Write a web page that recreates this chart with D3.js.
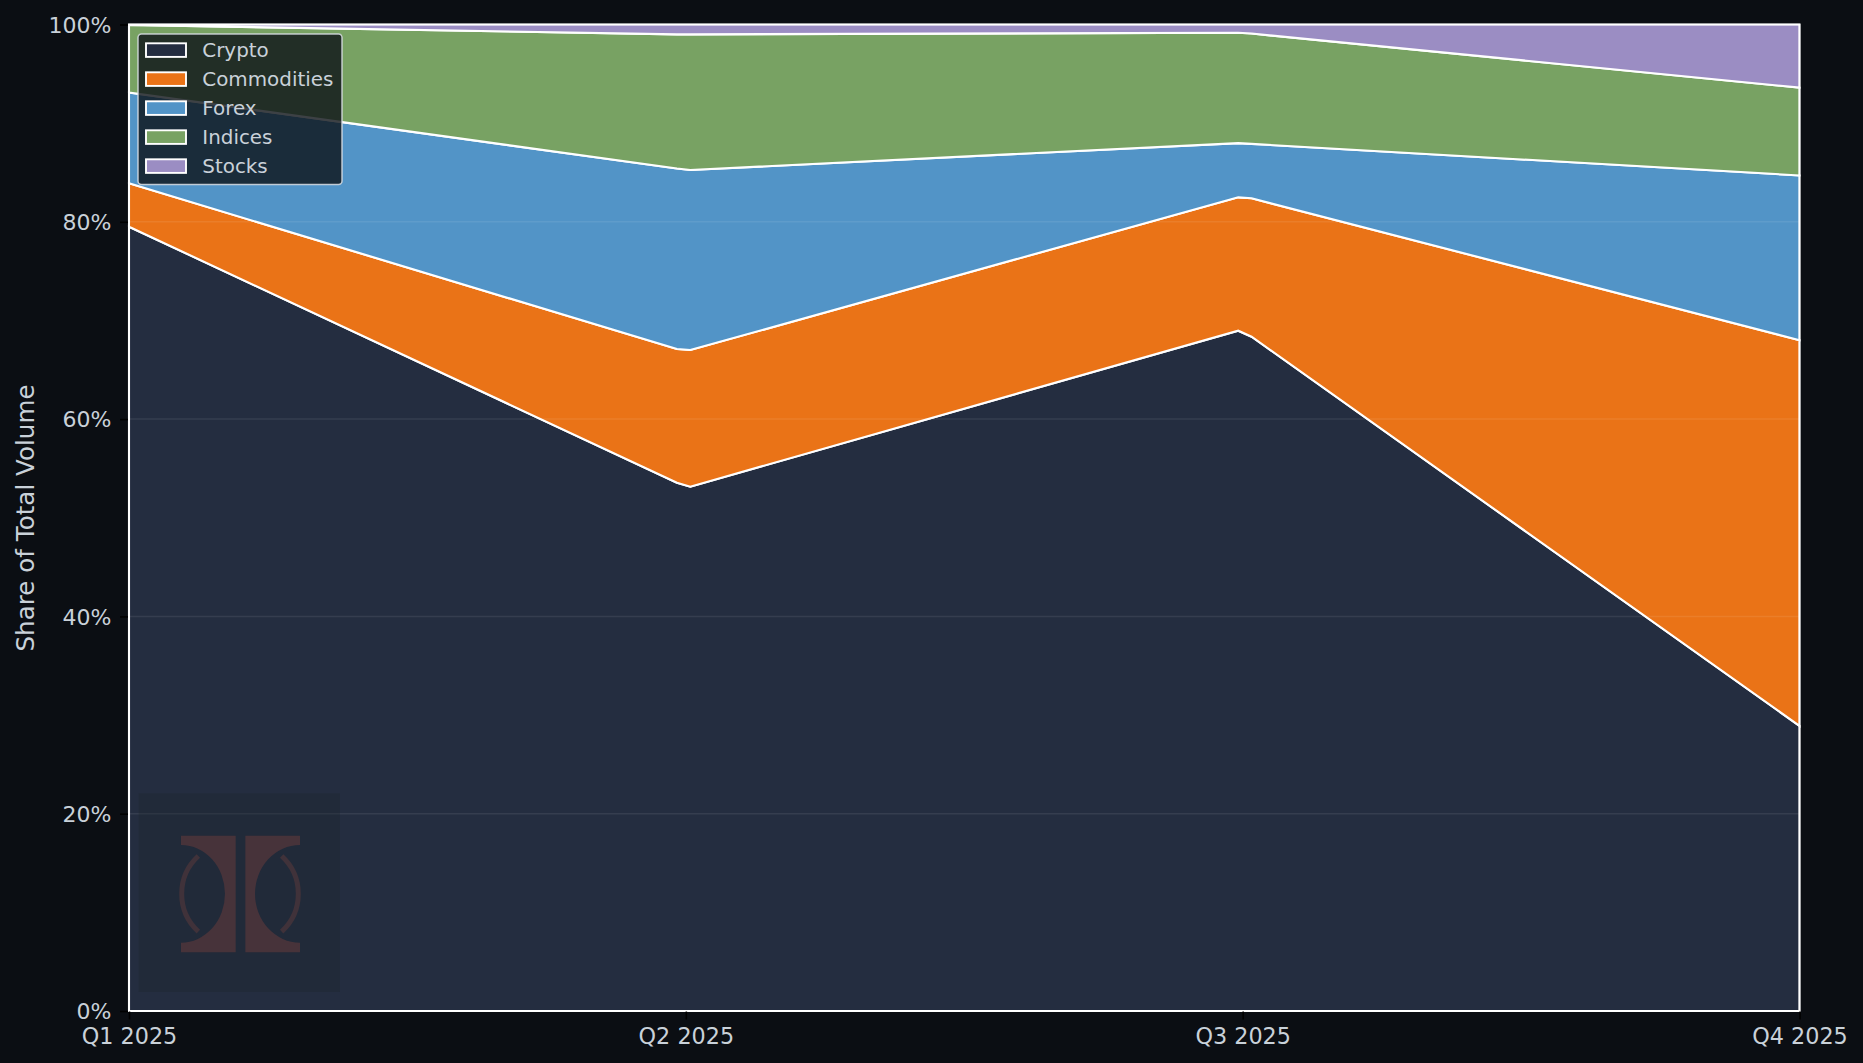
<!DOCTYPE html>
<html>
<head>
<meta charset="utf-8">
<script src="https://cdn.jsdelivr.net/npm/d3@7"></script>
<style>
html,body{margin:0;padding:0;background:#0b0e13;overflow:hidden}
svg{display:block}
text{font-family:"DejaVu Sans",sans-serif}
</style>
</head>
<body>
<svg id="c" width="1863" height="1063"></svg>
<script>
const seriesNames = ["Crypto","Commodities","Forex","Indices","Stocks"];
const seriesColors = ["#242d40","#ea7317","#5294c7","#78a263","#9b8dc3"];
// Time position in quarters since Q1 2025
const xValues = [0,0.984,1.008,1.992,2.016,3];
const crypto      = [79.5,53.55,53.15,68.96,68.35,28.9];
const commodities = [4.4,13.55,13.85,13.52,14.03,39.1];
const forex       = [9.2,18.3,18.25,5.5,5.52,16.7];
const indices     = [6.85,13.6,13.75,11.19,11.18,8.9];
const stocks      = [0.05,1.0,1.0,0.83,0.92,6.4];
const xTickValues = [0,1,2,3];
const xTickLabels = ["Q1 2025","Q2 2025","Q3 2025","Q4 2025"];
const yTickValues = [0,20,40,60,80,100];
const yLabel = "Share of Total Volume";

const margin = {left:129, right:1799.5, top:24.5, bottom:1011};
const textCol = "#c9d1d9";
const svg = d3.select("#c");
const x = d3.scaleLinear().domain([0,3]).range([margin.left,margin.right]);
const y = d3.scaleLinear().domain([0,100]).range([margin.bottom,margin.top]);

const columns = [crypto,commodities,forex,indices,stocks];
const rows = xValues.map((v,i)=>{
  const r = {x:v};
  seriesNames.forEach((n,k)=>{r[n]=columns[k][i];});
  return r;
});
const stacked = d3.stack().keys(seriesNames)(rows);
const area = d3.area().x(d=>x(d.data.x)).y0(d=>y(d[0])).y1(d=>y(d[1]));

svg.append("g").selectAll("path").data(stacked).join("path")
  .attr("d",area)
  .attr("fill",(d,i)=>seriesColors[i])
  .attr("stroke","#ffffff")
  .attr("stroke-width",2.1)
  .attr("stroke-linejoin","miter");

// grid
svg.append("g").selectAll("line").data(yTickValues.filter(v=>v>0&&v<100)).join("line")
  .attr("x1",margin.left).attr("x2",margin.right)
  .attr("y1",d=>y(d)).attr("y2",d=>y(d))
  .attr("stroke","#ffffff").attr("stroke-opacity",0.08).attr("stroke-width",1.5);

// watermark
const wm = svg.append("g").attr("transform","translate(100,770) scale(0.33333)");
wm.append("rect").attr("x",116).attr("y",70).attr("width",604).attr("height",596)
  .attr("fill","#1b262c").attr("fill-opacity",0.32);
const logo = wm.append("g").attr("fill","#47333a");
logo.append("path").attr("d","M243 197H407V547H243V518A132 146.5 0 0 0 243 225Z");
logo.append("path").attr("d","M600 197H436V547H600V518A135 146.5 0 0 1 600 225Z");
wm.append("path").attr("d","M295 258A154 154 0 0 0 295 485").attr("fill","none").attr("stroke","#40323a").attr("stroke-width",15);
wm.append("path").attr("d","M545 258A154 154 0 0 1 545 485").attr("fill","none").attr("stroke","#40323a").attr("stroke-width",15);

// spines
svg.append("rect").attr("x",margin.left).attr("y",margin.top)
  .attr("width",margin.right-margin.left).attr("height",margin.bottom-margin.top)
  .attr("fill","none").attr("stroke","#ffffff").attr("stroke-width",1.4);

// axes
const yAxis = d3.axisLeft(y).tickValues(yTickValues).tickFormat(d=>d+"%").tickSize(8).tickPadding(8.5);
const gy = svg.append("g").attr("transform",`translate(${margin.left-1},0)`).call(yAxis);
const xAxis = d3.axisBottom(x).tickValues(xTickValues).tickFormat((d,i)=>xTickLabels[i]).tickSize(8).tickPadding(9);
const gx = svg.append("g").attr("transform",`translate(0,${margin.bottom+0.5})`).call(xAxis);
[gy,gx].forEach(g=>{
  g.select(".domain").remove();
  g.selectAll(".tick line").attr("stroke","#000000").attr("stroke-width",1.6);
  g.selectAll("text").attr("fill",textCol).style("font-family",'"DejaVu Sans",sans-serif');
});
gy.selectAll("text").style("font-size","22px").attr("dy","0.36em").attr("y",-0.3);
gx.selectAll("text").style("font-size","22.3px");

svg.append("text").attr("transform",`translate(33.5,518) rotate(-90)`)
  .attr("text-anchor","middle").attr("fill",textCol).style("font-size","24.6px").text(yLabel);

// legend
const lg = svg.append("g");
lg.append("rect").attr("x",138).attr("y",34).attr("width",204).attr("height",150.4).attr("rx",3.5)
  .attr("fill","#0d1117").attr("fill-opacity",0.8)
  .attr("stroke","#d8dee4").attr("stroke-opacity",0.85).attr("stroke-width",1.5);
const item = lg.selectAll("g").data(seriesNames).join("g")
  .attr("transform",(d,i)=>`translate(0,${i*29})`);
item.append("rect").attr("x",146).attr("y",43.3).attr("width",40).attr("height",13.6)
  .attr("fill",(d,i)=>seriesColors[i]).attr("stroke","#ffffff").attr("stroke-width",1.9);
item.append("text").attr("x",202.3).attr("y",57).attr("fill",textCol).style("font-size","19.9px").text(d=>d);
</script>
</body>
</html>
